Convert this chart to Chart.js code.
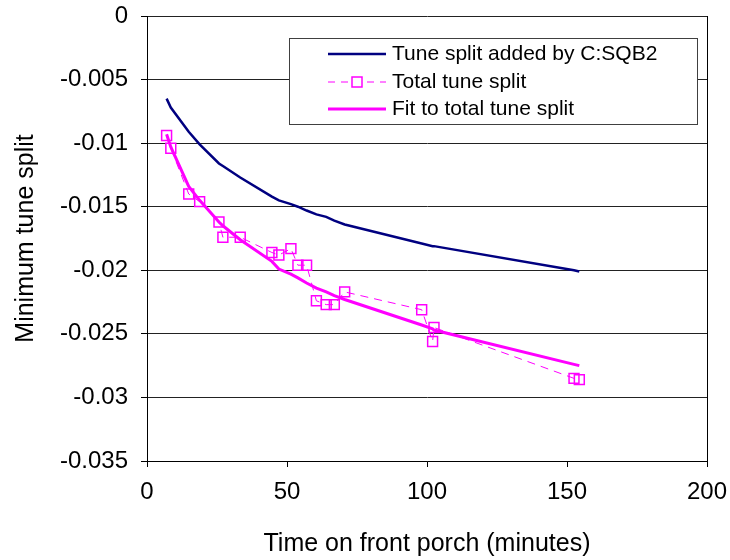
<!DOCTYPE html>
<html>
<head>
<meta charset="utf-8">
<title>Minimum tune split</title>
<script src="https://cdn.jsdelivr.net/npm/chart.js@4.4.1/dist/chart.umd.min.js"></script>
<style>
  html, body { margin: 0; padding: 0; background: #fff; }
  #wrap { width: 730px; height: 560px; }
</style>
</head>
<body>
<div id="wrap"><canvas id="chart" width="730" height="560"></canvas></div>
<script>
// data
const timeMin = [7.0, 8.5, 14.9, 18.8, 25.7, 27.1, 33.3, 44.6, 47.1, 51.4, 53.9,
                 57.0, 60.5, 64.0, 66.9, 70.6, 98.1, 102.0, 102.5, 152.5, 154.4];
const totalSplit = [-0.0094, -0.0104, -0.0140, -0.0146, -0.0162, -0.0174, -0.0174,
                    -0.0186, -0.0188, -0.0183, -0.0196, -0.0196, -0.0224, -0.0227,
                    -0.0227, -0.0217, -0.0231, -0.0256, -0.0245, -0.0285, -0.0286];
const fitSplit = [-0.0093, -0.0103, -0.0134, -0.0145, -0.0162, -0.0165, -0.0176,
                  -0.0193, -0.0199, -0.0203, -0.0206, -0.0210, -0.0214, -0.0217,
                  -0.0220, -0.0223, -0.0243, -0.0246, -0.0247, -0.0274, -0.0275];
const sqb2Split = [-0.0065, -0.0072, -0.0091, -0.0101, -0.0116, -0.0118, -0.0127,
                   -0.0142, -0.0145, -0.0148, -0.0150, -0.0153, -0.0156, -0.0158,
                   -0.0161, -0.0164, -0.0179, -0.0181, -0.0181, -0.0200, -0.0201];

const xTicks = [0, 50, 100, 150, 200];
const xTickLabels = ['0', '50', '100', '150', '200'];
const yTicks = [0, -0.005, -0.01, -0.015, -0.02, -0.025, -0.03, -0.035];
const yTickLabels = ['0', '-0.005', '-0.01', '-0.015', '-0.02', '-0.025', '-0.03', '-0.035'];

const seriesNames = ['Tune split added by C:SQB2', 'Total tune split', 'Fit to total tune split'];

const NAVY = '#000080';
const PINK = '#FF00FF';
const FONT = "'Liberation Sans', Arial, sans-serif";

function pairs(ys) {
    return timeMin.map((t, i) => ({ x: t, y: ys[i] }));
}

// legend box drawn inside the plot, like the original
const boxLegend = {
    id: 'boxLegend',
    afterDraw(chart) {
        const ctx = chart.ctx;
        const left = 289.5, top = 38.5, w = 408, h = 86;
        ctx.save();
        ctx.fillStyle = '#fff';
        ctx.fillRect(left, top, w, h);
        ctx.strokeStyle = '#404040';
        ctx.lineWidth = 1;
        ctx.strokeRect(left, top, w, h);

        const rows = [54, 82, 109];
        const x1 = 328, x2 = 386;
        // navy line
        ctx.strokeStyle = NAVY;
        ctx.lineWidth = 2.5;
        ctx.beginPath(); ctx.moveTo(x1, rows[0]); ctx.lineTo(x2, rows[0]); ctx.stroke();
        // dashed pink with square marker
        ctx.strokeStyle = PINK;
        ctx.lineWidth = 1;
        ctx.setLineDash([7, 6]);
        ctx.beginPath(); ctx.moveTo(x1, rows[1]); ctx.lineTo(x2, rows[1]); ctx.stroke();
        ctx.setLineDash([]);
        ctx.lineWidth = 1.5;
        ctx.fillStyle = '#fff';
        ctx.fillRect(352, rows[1] - 5, 10, 10);
        ctx.strokeRect(352, rows[1] - 5, 10, 10);
        // thick pink line
        ctx.lineWidth = 3;
        ctx.beginPath(); ctx.moveTo(x1, rows[2]); ctx.lineTo(x2, rows[2]); ctx.stroke();

        ctx.fillStyle = '#000';
        ctx.font = '21px ' + FONT;
        ctx.textBaseline = 'middle';
        ctx.textAlign = 'left';
        seriesNames.forEach((name, i) => ctx.fillText(name, 392, rows[i]));
        ctx.restore();
    }
};

new Chart(document.getElementById('chart'), {
    type: 'line',
    data: {
        datasets: [
            {
                label: seriesNames[0],
                data: pairs(sqb2Split),
                borderColor: NAVY,
                borderWidth: 2.5,
                pointRadius: 0,
                tension: 0
            },
            {
                label: seriesNames[1],
                data: pairs(totalSplit),
                borderColor: PINK,
                borderWidth: 1,
                borderDash: [8, 6],
                pointStyle: 'rect',
                pointRadius: 7,
                pointBorderWidth: 1.5,
                pointBorderColor: PINK,
                pointBackgroundColor: 'rgba(255,255,255,0)',
                tension: 0
            },
            {
                label: seriesNames[2],
                data: pairs(fitSplit),
                borderColor: PINK,
                borderWidth: 3,
                pointRadius: 0,
                tension: 0
            }
        ]
    },
    options: {
        responsive: false,
        animation: false,
        events: [],
        layout: { padding: { left: 0, right: 23, top: 16, bottom: 0 } },
        plugins: {
            legend: { display: false },
            tooltip: { enabled: false }
        },
        scales: {
            x: {
                type: 'linear',
                min: 0,
                max: 200,
                afterBuildTicks: (s) => { s.ticks = xTicks.map(v => ({ value: v })); },
                afterFit: (s) => { s.height = 99; s.paddingLeft = 0; s.paddingRight = 0; },
                border: { display: true, color: '#000', width: 1 },
                grid: {
                    color: (c) => (c.tick && c.tick.value === 200 ? '#000' : 'rgba(0,0,0,0)'),
                    tickColor: '#000',
                    tickLength: 6,
                    lineWidth: 1
                },
                ticks: {
                    color: '#000',
                    font: { family: FONT, size: 24 },
                    padding: 11,
                    maxRotation: 0,
                    callback: (v) => xTickLabels[xTicks.indexOf(v)]
                },
                title: {
                    display: true,
                    text: 'Time on front porch (minutes)',
                    color: '#000',
                    font: { family: FONT, size: 25 },
                    padding: { top: 0, bottom: 1 }
                }
            },
            y: {
                type: 'linear',
                min: -0.035,
                max: 0,
                afterBuildTicks: (s) => { s.ticks = yTicks.map(v => ({ value: v })); },
                afterFit: (s) => { s.width = 147; s.paddingTop = 0; s.paddingBottom = 0; },
                border: { display: true, color: '#000', width: 1 },
                grid: {
                    color: '#222',
                    tickColor: '#000',
                    tickLength: 6,
                    lineWidth: 1
                },
                ticks: {
                    color: '#000',
                    font: { family: FONT, size: 24 },
                    padding: 13,
                    callback: (v) => yTickLabels[yTicks.indexOf(v)]
                },
                title: {
                    display: true,
                    text: 'Minimum tune split',
                    color: '#000',
                    font: { family: FONT, size: 25 },
                    padding: { top: 11, bottom: 0 }
                }
            }
        }
    },
    plugins: [boxLegend]
});
</script>
</body>
</html>
